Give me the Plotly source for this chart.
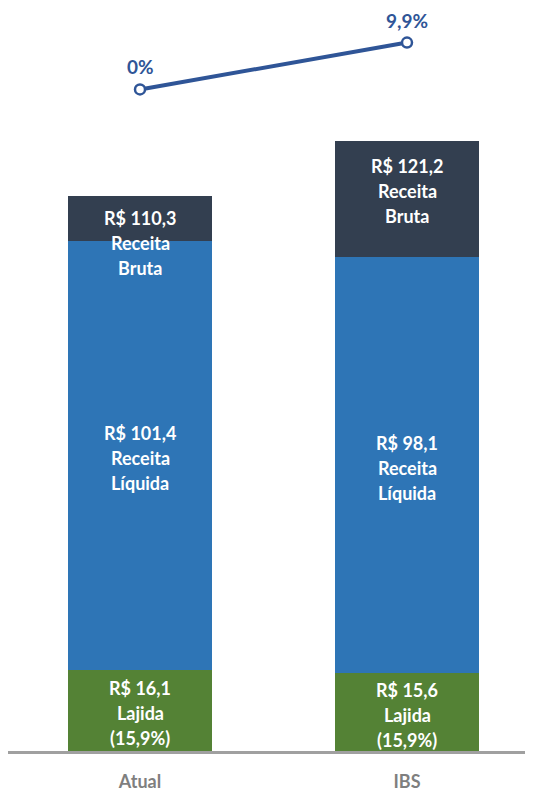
import plotly.graph_objects as go

categorias = ["Atual", "IBS"]
lajida = [16.1, 15.6]
receita_liquida = [101.4, 98.1]
receita_bruta = [110.3, 121.2]
variacao_pct = [0, 9.9]

# segment heights for stacking
seg_lajida = lajida
seg_liq = [rl - lj for rl, lj in zip(receita_liquida, lajida)]
seg_bruta = [rb - rl for rb, rl in zip(receita_bruta, receita_liquida)]

x = [0, 1]
COL_DARK = "#333F50"
COL_BLUE = "#2E75B6"
COL_GREEN = "#548235"
COL_LINE = "#2F5597"
FONT = "Lato"

def brl(v):
    return ("R$ %.1f" % v).replace(".", ",")

def pct(v):
    return "0%" if v == 0 else ("%.1f%%" % v).replace(".", ",")

fig = go.Figure()
for seg, col in [(seg_lajida, COL_GREEN), (seg_liq, COL_BLUE), (seg_bruta, COL_DARK)]:
    fig.add_trace(go.Bar(x=x, y=seg, marker=dict(color=col, line=dict(width=0)),
                         width=0.539, showlegend=False, hoverinfo="skip"))

fig.add_trace(go.Scatter(x=x, y=variacao_pct, yaxis="y2", mode="lines+markers",
                         line=dict(color=COL_LINE, width=4),
                         marker=dict(size=10, color="white", line=dict(color=COL_LINE, width=2.5)),
                         showlegend=False, hoverinfo="skip", cliponaxis=False))

annotations = []
label_shift = {"lajida": [-3, -3], "liq": [-3, -3], "bruta": [-25, 8]}
for i in range(2):
    groups = [
        ("lajida", lajida[i] / 2, [brl(lajida[i]), "Lajida", "(" + pct(round(lajida[i] / receita_liquida[i] * 100, 1)) + ")"]),
        ("liq", (lajida[i] + receita_liquida[i]) / 2, [brl(receita_liquida[i]), "Receita", "Líquida"]),
        ("bruta", (receita_liquida[i] + receita_bruta[i]) / 2, [brl(receita_bruta[i]), "Receita", "Bruta"]),
    ]
    for key, ymid, lines in groups:
        for j, t in enumerate(lines):
            annotations.append(dict(x=x[i], y=ymid, xref="x", yref="y", text="<b>" + t + "</b>",
                                    showarrow=False, yshift=label_shift[key][i] + 25 * (1 - j),
                                    font=dict(family=FONT, size=18, color="white")))
    annotations.append(dict(x=x[i], y=variacao_pct[i], xref="x", yref="y2", text="<b>" + pct(variacao_pct[i]) + "</b>",
                            showarrow=False, yshift=22.5, font=dict(family=FONT, size=19, color=COL_LINE)))

fig.update_layout(
    width=525, height=784,
    margin=dict(l=0, r=0, t=0, b=37),
    paper_bgcolor="white", plot_bgcolor="white",
    barmode="stack",
    xaxis=dict(range=[-0.4944, 1.4719], tickvals=x, ticktext=["<b>" + c + "</b>" for c in categorias],
               tickfont=dict(family=FONT, size=18, color="#7F7F7F"),
               showline=True, linecolor="#A0A0A0", linewidth=2.5, showgrid=False, zeroline=False,
               ticks="outside", ticklen=13, tickcolor="rgba(0,0,0,0)", fixedrange=True),
    yaxis=dict(domain=[0, 0.85], range=[0, 125.5], visible=False, fixedrange=True),
    yaxis2=dict(domain=[0.87, 1], range=[-3.2, 17.2], visible=False, fixedrange=True),
    annotations=annotations,
)

fig.write_html("out.html")
